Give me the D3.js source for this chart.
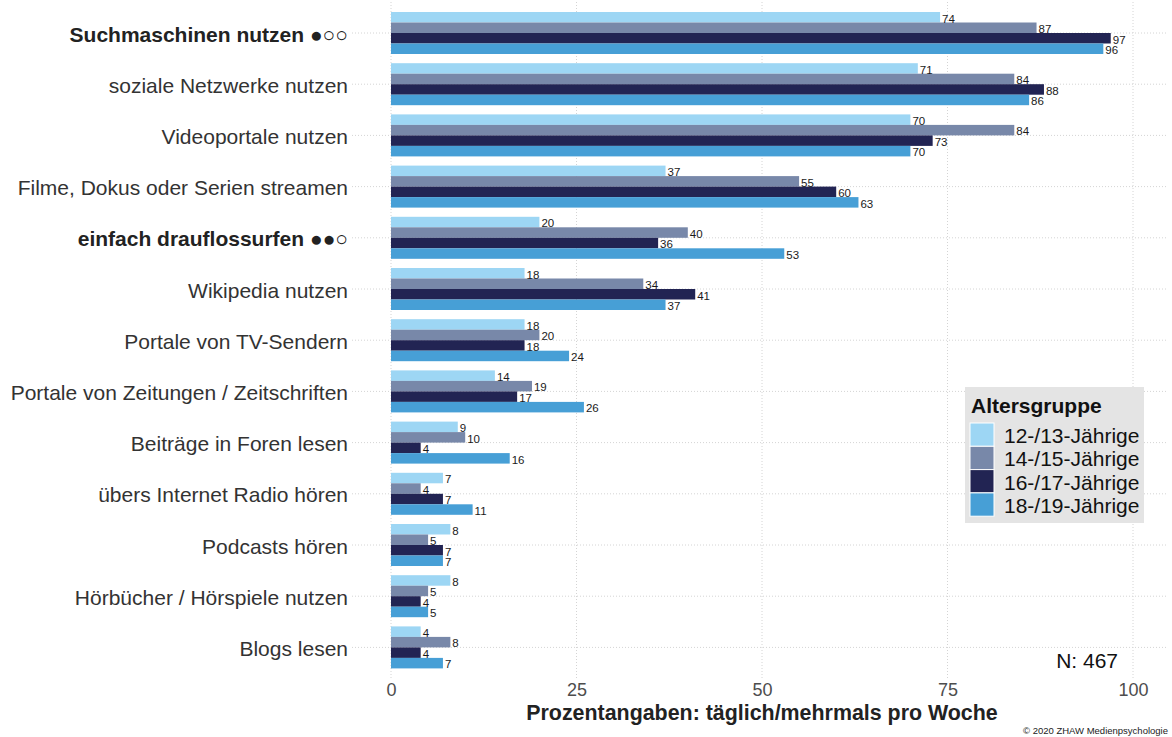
<!DOCTYPE html>
<html>
<head>
<meta charset="utf-8">
<script src="https://cdn.jsdelivr.net/npm/d3@7"></script>
<style>
body { margin: 0; background: #fff; }
text { font-family: "Liberation Sans", Arial, sans-serif; }
</style>
</head>
<body>
<div id="chart-area"></div>
<script>
// data
var categories = [
	"Suchmaschinen nutzen ●○○",
	"soziale Netzwerke nutzen",
	"Videoportale nutzen",
	"Filme, Dokus oder Serien streamen",
	"einfach drauflossurfen ●●○",
	"Wikipedia nutzen",
	"Portale von TV-Sendern",
	"Portale von Zeitungen / Zeitschriften",
	"Beiträge in Foren lesen",
	"übers Internet Radio hören",
	"Podcasts hören",
	"Hörbücher / Hörspiele nutzen",
	"Blogs lesen"
]
var boldCategories = ["Suchmaschinen nutzen ●○○", "einfach drauflossurfen ●●○"]
var groups = ["12-/13-Jährige", "14-/15-Jährige", "16-/17-Jährige", "18-/19-Jährige"]
var v12 = [74, 71, 70, 37, 20, 18, 18, 14, 9, 7, 8, 8, 4]
var v14 = [87, 84, 84, 55, 40, 34, 20, 19, 10, 4, 5, 5, 8]
var v16 = [97, 88, 73, 60, 36, 41, 18, 17, 4, 7, 7, 4, 4]
var v18 = [96, 86, 70, 63, 53, 37, 24, 26, 16, 11, 7, 5, 7]
var xTicks = [0, 25, 50, 75, 100]
var colors = ["#9dd6f4", "#7888a9", "#222453", "#479fd6"]

var W = 1172, H = 737

var svg = d3.select("#chart-area")
	.append("svg")
	.attr("width", W)
	.attr("height", H)

// panel
var panel = { left: 352, right: 1168, top: 2, bottom: 678 }

var x = d3.scaleLinear()
	.domain([0, 100])
	.range([391, 1133])

var step = 51.2
var y = d3.scalePoint()
	.domain(categories)
	.range([33, 33 + step * (categories.length - 1)])

var inner = d3.scaleBand()
	.domain(groups)
	.range([-21, 21])

var color = d3.scaleOrdinal().domain(groups).range(colors)

// gridlines
svg.append("g").selectAll("line")
	.data(categories)
	.enter().append("line")
	.attr("x1", panel.left).attr("x2", panel.right)
	.attr("y1", function (d) { return y(d) })
	.attr("y2", function (d) { return y(d) })
	.attr("stroke", "#d4d4d4")
	.attr("stroke-width", 1)
	.attr("stroke-dasharray", "1,2")

svg.append("g").selectAll("line")
	.data(xTicks)
	.enter().append("line")
	.attr("x1", function (d) { return x(d) })
	.attr("x2", function (d) { return x(d) })
	.attr("y1", panel.top).attr("y2", panel.bottom)
	.attr("stroke", "#d4d4d4")
	.attr("stroke-width", 1)
	.attr("stroke-dasharray", "1,2")

// rows of values
var rows = []
categories.forEach(function (c, i) {
	var vals = [v12[i], v14[i], v16[i], v18[i]]
	groups.forEach(function (g, j) {
		rows.push({ cat: c, group: g, value: vals[j] })
	})
})

svg.append("g").selectAll("rect")
	.data(rows)
	.enter().append("rect")
	.attr("x", x(0))
	.attr("y", function (d) { return y(d.cat) + inner(d.group) })
	.attr("width", function (d) { return x(d.value) - x(0) })
	.attr("height", inner.bandwidth())
	.attr("fill", function (d) { return color(d.group) })

svg.append("g").selectAll("text")
	.data(rows)
	.enter().append("text")
	.attr("x", function (d) { return x(d.value) + 2 })
	.attr("y", function (d) { return y(d.cat) + inner(d.group) + inner.bandwidth() })
	.attr("font-size", 11.5)
	.attr("fill", "#1a1a1a")
	.text(function (d) { return d.value })

// y axis labels
svg.append("g").selectAll("text")
	.data(categories)
	.enter().append("text")
	.attr("x", 348)
	.attr("y", function (d) { return y(d) + 1 })
	.attr("dy", "0.36em")
	.attr("text-anchor", "end")
	.attr("font-size", 21)
	.attr("font-weight", function (d) { return boldCategories.indexOf(d) >= 0 ? "bold" : "normal" })
	.attr("fill", function (d) { return boldCategories.indexOf(d) >= 0 ? "#222" : "#333" })
	.text(function (d) { return d })

// x axis
var bottomAxis = d3.axisBottom(x).tickValues(xTicks).tickSize(0).tickPadding(0)
var xg = svg.append("g")
	.attr("transform", "translate(0," + 683 + ")")
	.call(bottomAxis)
xg.select(".domain").remove()
xg.selectAll("text")
	.attr("font-size", 18)
	.attr("fill", "#4d4d4d")
	.attr("font-family", "Liberation Sans, Arial, sans-serif")

svg.append("text")
	.attr("x", x(50))
	.attr("y", 720)
	.attr("text-anchor", "middle")
	.attr("font-size", 21.4)
	.attr("font-weight", "bold")
	.attr("fill", "#222")
	.text("Prozentangaben: täglich/mehrmals pro Woche")

// legend
var lg = svg.append("g").attr("transform", "translate(965,387)")
lg.append("rect")
	.attr("width", 179).attr("height", 136)
	.attr("fill", "#e4e4e4")
lg.append("text")
	.attr("x", 6).attr("y", 26)
	.attr("font-size", 21)
	.attr("font-weight", "bold")
	.attr("fill", "#111")
	.text("Altersgruppe")
var keys = lg.selectAll("g.key")
	.data(groups)
	.enter().append("g")
	.attr("class", "key")
	.attr("transform", function (d, i) { return "translate(5," + (36 + i * 23.3) + ")" })
keys.append("rect")
	.attr("width", 24).attr("height", 23.3)
	.attr("fill", function (d) { return color(d) })
	.attr("stroke", "#fff")
	.attr("stroke-width", 1)
keys.append("text")
	.attr("x", 34).attr("y", 12.5)
	.attr("dy", "0.36em")
	.attr("font-size", 21)
	.attr("fill", "#111")
	.text(function (d) { return d })

svg.append("text")
	.attr("x", 1118).attr("y", 668)
	.attr("text-anchor", "end")
	.attr("font-size", 21)
	.attr("fill", "#111")
	.text("N: 467")

svg.append("text")
	.attr("x", 1168).attr("y", 734)
	.attr("text-anchor", "end")
	.attr("font-size", 9.5)
	.attr("fill", "#222")
	.text("© 2020 ZHAW Medienpsychologie")
</script>
</body>
</html>
